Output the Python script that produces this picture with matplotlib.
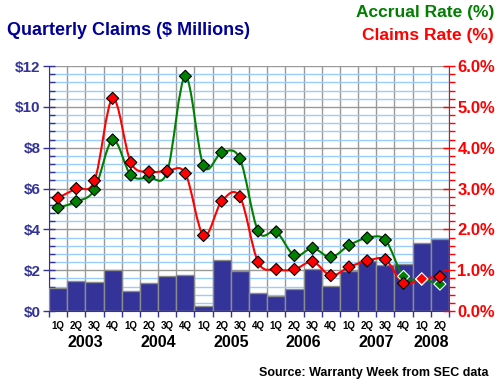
import numpy as np
import matplotlib.pyplot as plt
from matplotlib.path import Path
from matplotlib.patches import PathPatch
from matplotlib.ticker import MultipleLocator, FuncFormatter

plt.rcParams['font.family'] = ['Liberation Sans', 'DejaVu Sans']
plt.rcParams['font.weight'] = 'bold'

quarters = ['1Q', '2Q', '3Q', '4Q'] * 5 + ['1Q', '2Q']
years = ['2003', '2004', '2005', '2006', '2007', '2008']

# quarterly claims, $ millions
claims = [1.11, 1.45, 1.40, 1.99, 0.96, 1.36, 1.70, 1.75, 0.23, 2.50, 1.96,
          0.87, 0.74, 1.08, 2.06, 1.21, 1.96, 2.45, 2.24, 2.29, 3.33, 3.53]
# accrual rate, %
accrual = [2.53, 2.68, 2.97, 4.19, 3.33, 3.28, 3.41, 5.75, 3.56, 3.88, 3.73,
           1.96, 1.94, 1.36, 1.54, 1.32, 1.61, 1.79, 1.74, 0.85, 0.78, 0.66]
# claims rate, %
claims_rate = [2.77, 3.00, 3.19, 5.21, 3.64, 3.41, 3.43, 3.37, 1.85, 2.69, 2.80,
               1.20, 1.02, 1.02, 1.21, 0.87, 1.08, 1.23, 1.26, 0.68, 0.79, 0.84]

NAVY = '#333399'
GREEN = '#007f00'
RED = '#ff0000'


def smooth_path(xs, ys):
    # catmull-rom through the points, as cubic bezier segments
    pts = np.column_stack([xs, ys]).astype(float)
    n = len(pts)
    verts = [pts[0]]
    codes = [Path.MOVETO]
    for i in range(n - 1):
        p0 = pts[max(i - 1, 0)]
        p1 = pts[i]
        p2 = pts[i + 1]
        p3 = pts[min(i + 2, n - 1)]
        c1 = p1 + (p2 - p0) / 6.0
        c2 = p2 - (p3 - p1) / 6.0
        verts += [c1, c2, p2]
        codes += [Path.CURVE4] * 3
    return Path(verts, codes)


fig = plt.figure(figsize=(5, 3.85), dpi=100)
ax = fig.add_axes([0.098, 0.192, 0.800, 0.6364])

x = np.arange(len(claims))
ax.bar(x, claims, width=1.0, color=NAVY, edgecolor='#8c8c8c', linewidth=1, zorder=3)

ax.set_xlim(-0.5, len(claims) - 0.5)
ax.set_ylim(0, 12)
ax.yaxis.set_major_locator(MultipleLocator(2))
ax.yaxis.set_minor_locator(MultipleLocator(0.4))
ax.yaxis.set_major_formatter(FuncFormatter(lambda v, p: '$%d' % v))
ax.set_xticks(np.arange(len(claims) + 1) - 0.5)
ax.set_xticklabels([])

ax.grid(which='minor', axis='y', color='#99ccff', linewidth=1, zorder=0)
ax.grid(which='major', axis='y', color='#999999', linewidth=1, zorder=1)
ax.grid(which='major', axis='x', color='#999999', linewidth=1, zorder=1)
ax.set_axisbelow(True)

ax.tick_params(axis='y', which='major', direction='inout', length=8, width=1,
               colors=NAVY, labelsize=11, pad=2)
ax.tick_params(axis='y', which='minor', direction='in', length=4, width=1, colors=NAVY)
ax.tick_params(axis='x', which='major', direction='out', length=4, width=1, colors=NAVY)
for lab in ax.get_yticklabels():
    lab.set_fontweight('bold')
ax.spines['left'].set_color(NAVY)
ax.spines['bottom'].set_color(NAVY)
ax.spines['top'].set_visible(False)
ax.spines['right'].set_visible(False)

trans = ax.get_xaxis_transform()
for i, q in enumerate(quarters):
    ax.text(i, -0.062, q, transform=trans, ha='center', va='center',
            fontsize=7, fontweight='bold', color='black')
for j, yr in enumerate(years):
    if j < 5:
        cx = 4 * j + 1.5
    else:
        cx = 20.5
    ax.text(cx, -0.13, yr, transform=trans, ha='center', va='center',
            fontsize=11.5, fontweight='bold', color='black')

ax2 = ax.twinx()
ax2.set_ylim(0, 6)
ax2.set_xlim(-0.5, len(claims) - 0.5)
ax2.yaxis.set_major_locator(MultipleLocator(1))
ax2.yaxis.set_minor_locator(MultipleLocator(0.2))
ax2.yaxis.set_major_formatter(FuncFormatter(lambda v, p: '%.1f%%' % v))
ax2.tick_params(axis='y', which='major', direction='inout', length=8, width=1,
                colors=RED, labelsize=12, pad=2)
ax2.tick_params(axis='y', which='minor', direction='out', length=4, width=1, colors=RED)
for lab in ax2.get_yticklabels():
    lab.set_fontweight('bold')
ax2.spines['right'].set_color(RED)
for s in ['left', 'top', 'bottom']:
    ax2.spines[s].set_visible(False)

ax2.add_patch(PathPatch(smooth_path(x, accrual), fill=False, edgecolor=GREEN,
                        linewidth=1.5, zorder=4))
ax2.add_patch(PathPatch(smooth_path(x, claims_rate), fill=False, edgecolor=RED,
                        linewidth=1.5, zorder=5))

green_edges = ['black'] * 19 + ['white'] * 3
red_edges = ['black'] * 20 + ['white'] + ['black']
ax2.scatter(x, accrual, marker='D', s=38, color=GREEN, edgecolors=green_edges,
            linewidths=0.8, zorder=6)
ax2.scatter(x, claims_rate, marker='D', s=38, color=RED, edgecolors=red_edges,
            linewidths=0.8, zorder=7)

fig.text(0.014, 0.922, 'Quarterly Claims ($ Millions)', ha='left', va='center',
         fontsize=13, fontweight='bold', color='#000099')
fig.text(0.988, 0.968, 'Accrual Rate (%)', ha='right', va='center',
         fontsize=12.5, fontweight='bold', color=GREEN)
fig.text(0.988, 0.909, 'Claims Rate (%)', ha='right', va='center',
         fontsize=12.5, fontweight='bold', color=RED)
fig.text(0.977, 0.031, 'Source: Warranty Week from SEC data', ha='right', va='center',
         fontsize=9, fontweight='bold', color='black')

fig.savefig('out.png', dpi=100, facecolor='white')
